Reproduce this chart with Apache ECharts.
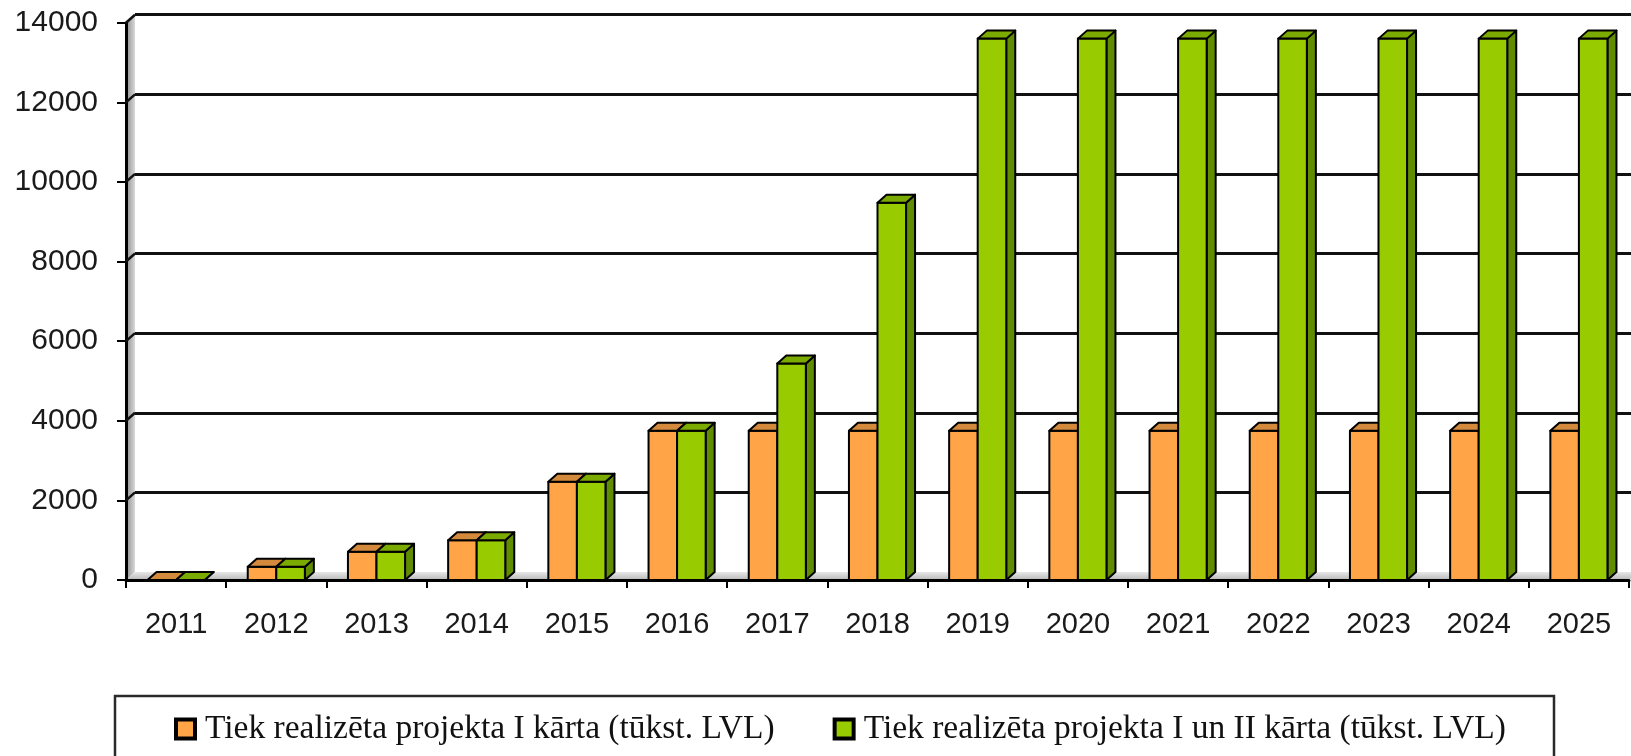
<!DOCTYPE html>
<html>
<head>
<meta charset="utf-8">
<script src="https://cdn.jsdelivr.net/npm/echarts@6/dist/echarts.min.js"></script>
<style>
  html, body { margin: 0; padding: 0; background: #fff; }
  #chart { width: 1631px; height: 756px; }
</style>
</head>
<body>
<div id="chart"></div>
<script>
// data
var years = ["2011", "2012", "2013", "2014", "2015", "2016", "2017", "2018",
  "2019", "2020", "2021", "2022", "2023", "2024", "2025"];
var phase1 = [0, 334, 711, 1000, 2470, 3750, 3750, 3750, 3750, 3750, 3750, 3750, 3750, 3750, 3750];
var phase12 = [0, 334, 711, 1000, 2470, 3750, 5440, 9480, 13600, 13600, 13600, 13600, 13600, 13600, 13600];
var seriesNames = [
  "Tiek realizēta projekta I kārta (tūkst. LVL)",
  "Tiek realizēta projekta I un II kārta (tūkst. LVL)"
];
var yMax = 14000, yStep = 2000;

var colors = [
  { front: "#FFA548", top: "#D48A3C", side: "#B8742E" },
  { front: "#99CC00", top: "#7BAA00", side: "#5F8C00" }
];

// layout
var G = { left: 126, top: 22.7, right: 2, bottom: 176 };
var DX = 9, DY = 8;
var W = 1631, H = 756;
var plotW = W - G.left - G.right;
var plotH = H - G.top - G.bottom;

function bar3d(side) {
  return function (params, api) {
    var i = api.value(0), v = api.value(1);
    var base = api.coord([i, 0]), top = api.coord([i, v]);
    var w = api.size([1, 0])[0] * 0.285;
    var x0 = side === 0 ? base[0] - w : base[0];
    var y0 = base[1], y1 = top[1];
    var c = colors[side];
    var st = function (fill) { return { fill: fill, stroke: "#000", lineWidth: 2, lineJoin: "round" }; };
    return {
      type: "group",
      children: [
        { type: "polygon", shape: { points: [[x0 + w, y1], [x0 + w + DX, y1 - DY], [x0 + w + DX, y0 - DY], [x0 + w, y0]] }, style: st(c.side) },
        { type: "rect", shape: { x: x0, y: y1, width: w, height: y0 - y1 }, style: st(c.front) },
        { type: "polygon", shape: { points: [[x0, y1], [x0 + DX, y1 - DY], [x0 + w + DX, y1 - DY], [x0 + w, y1]] }, style: st(c.top) }
      ]
    };
  };
}

function pairs(arr) {
  return arr.map(function (v, i) { return [i, v]; });
}

var backLineColors = ["rgba(0,0,0,0)"];
for (var k = 1; k <= yMax / yStep; k++) backLineColors.push("#111");

var labelFont = "'Liberation Sans', Arial, sans-serif";

var chart = echarts.init(document.getElementById("chart"));
var option = {
  animation: false,
  backgroundColor: "#fff",
  grid: [
    { left: G.left, top: G.top, width: plotW, height: plotH },
    { left: G.left + DX, top: G.top - DY, width: plotW, height: plotH }
  ],
  xAxis: [
    {
      type: "category", gridIndex: 0, data: years,
      axisLine: { lineStyle: { color: "#000", width: 3 } },
      axisTick: { show: true, alignWithLabel: false, length: 8, lineStyle: { color: "#000", width: 2 } },
      axisLabel: { color: "#1a1a1a", fontSize: 29, fontFamily: labelFont, margin: 30 },
      splitLine: { show: false }
    },
    {
      type: "category", gridIndex: 1, data: years,
      axisLine: { show: false }, axisTick: { show: false }, axisLabel: { show: false }
    }
  ],
  yAxis: [
    {
      type: "value", gridIndex: 0, min: 0, max: yMax, interval: yStep,
      axisLine: { show: true, lineStyle: { color: "#000", width: 3 } },
      axisTick: { show: true, length: 9, lineStyle: { color: "#000", width: 2 } },
      axisLabel: { color: "#1a1a1a", fontSize: 30, fontFamily: labelFont, margin: 28,
        formatter: function (v) { return String(v); } },
      splitLine: { show: false }
    },
    {
      type: "value", gridIndex: 1, min: 0, max: yMax, interval: yStep,
      axisLine: { show: false }, axisTick: { show: false }, axisLabel: { show: false },
      splitLine: { show: true, lineStyle: { color: backLineColors, width: 3 } }
    }
  ],
  legend: {
    left: 169, top: 707,
    itemWidth: 19, itemHeight: 19, itemGap: 58,
    selectedMode: false,
    textStyle: { fontFamily: "'Liberation Serif', 'Times New Roman', serif", fontSize: 33.5, color: "#111", padding: [0, 0, 0, 5] },
    data: [
      { name: seriesNames[0], icon: "rect", itemStyle: { color: colors[0].front, borderColor: "#000", borderWidth: 4 } },
      { name: seriesNames[1], icon: "rect", itemStyle: { color: colors[1].front, borderColor: "#000", borderWidth: 4 } }
    ]
  },
  series: [
    {
      name: seriesNames[0], type: "custom", xAxisIndex: 0, yAxisIndex: 0,
      renderItem: bar3d(0), data: pairs(phase1), encode: { x: 0, y: 1 },
      itemStyle: { color: colors[0].front }, z: 3
    },
    {
      name: seriesNames[1], type: "custom", xAxisIndex: 0, yAxisIndex: 0,
      renderItem: bar3d(1), data: pairs(phase12), encode: { x: 0, y: 1 },
      itemStyle: { color: colors[1].front }, z: 4
    }
  ]
};
chart.setOption(option);

// walls, floor and side-wall grid diagonals, placed through the axis scale
var yTop = chart.convertToPixel({ yAxisIndex: 0 }, yMax);
var yBase = chart.convertToPixel({ yAxisIndex: 0 }, 0);
var xL = G.left, xR = G.left + plotW;
var gfx = [
  {
    type: "polygon", z: -10,
    shape: { points: [[xL, yTop], [xL + DX, yTop - DY], [xL + DX, yBase - DY], [xL, yBase]] },
    style: { fill: new echarts.graphic.LinearGradient(0, 0, 1, 0, [{ offset: 0, color: "#8f8f8f" }, { offset: 1, color: "#d8d8d8" }]) }
  },
  {
    type: "polygon", z: -10,
    shape: { points: [[xL, yBase], [xL + DX, yBase - DY], [xR + DX, yBase - DY], [xR, yBase]] },
    style: { fill: new echarts.graphic.LinearGradient(0, 0, 0, 1, [{ offset: 0, color: "#e8e8e8" }, { offset: 1, color: "#b8b8b8" }]) }
  },
  {
    type: "rect", z: 10,
    shape: { x: 115, y: 696, width: 1439, height: 100 },
    style: { fill: null, stroke: "#2a2a2a", lineWidth: 2.5 }
  }
];
for (var v = yStep; v <= yMax; v += yStep) {
  var py = chart.convertToPixel({ yAxisIndex: 0 }, v);
  gfx.push({
    type: "line", z: 5,
    shape: { x1: xL, y1: py, x2: xL + DX, y2: py - DY },
    style: { stroke: "#111", lineWidth: 2.5 }
  });
}
chart.setOption({ graphic: gfx });
</script>
</body>
</html>
